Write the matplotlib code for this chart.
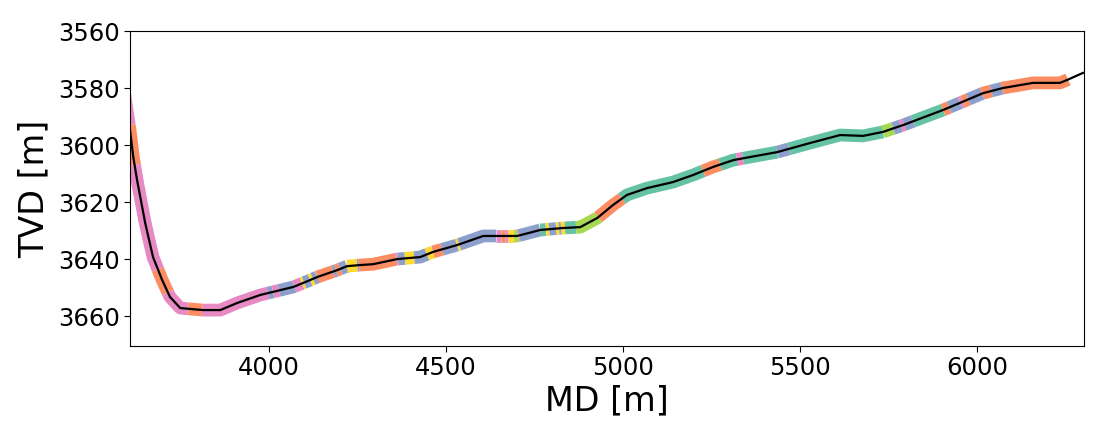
import numpy as np
from matplotlib import pyplot as plt

# well path
md = [3585, 3590, 3607, 3616, 3627, 3650, 3672, 3698, 3720, 3749, 3814, 3862, 3910, 3975,
      4068, 4102, 4136, 4192, 4220, 4257, 4294, 4362, 4427, 4463, 4531, 4605, 4653, 4701,
      4766, 4831, 4879, 4927, 4972, 5011, 5068, 5141, 5198, 5254, 5311, 5359, 5435, 5528,
      5613, 5678, 5734, 5791, 5904, 6017, 6073, 6158, 6234, 6254, 6299]
tvd = [3575, 3580.7, 3594.7, 3604, 3612.3, 3627.4, 3639.3, 3647.4, 3653.3, 3657.2, 3657.9, 3657.9, 3655.4, 3652.6,
       3649.8, 3648.1, 3646.3, 3643.9, 3642.5, 3642.1, 3641.8, 3640, 3639.3, 3637.5, 3635.1, 3631.9, 3631.9, 3631.9,
       3629.8, 3629.1, 3628.8, 3625.6, 3621, 3617.5, 3615.1, 3613, 3610.5, 3607.7, 3605.3, 3604.2, 3602.5, 3599.3,
       3596.5, 3596.8, 3595.4, 3593, 3587.7, 3581.8, 3580, 3578.2, 3578.2, 3577.2, 3574.7]

# facies intervals: where each one ends and its class
facies_end = [3605, 3620, 3686, 3714, 3771, 3811, 3997, 4011, 4028, 4071, 4093, 4099, 4116, 4124, 4136,
              4181, 4189, 4201, 4220, 4249, 4254, 4359, 4364, 4384, 4410, 4446, 4463, 4489, 4531, 4537,
              4641, 4655, 4667, 4675, 4692, 4703, 4706, 4766, 4782, 4791, 4811, 4819, 4825, 4836, 4867,
              4930, 4997, 5226, 5274, 5322, 5339, 5435, 5469, 5734, 5763, 5785, 5794, 5819, 5904, 5921,
              5952, 5960, 5975, 6014, 6040, 6071, 6257]
facies = [3, 1, 3, 1, 3, 1, 3, 2, 3, 2, 3, 5, 2, 5, 2,
          1, 2, 1, 2, 5, 2, 1, 3, 2, 5, 2, 5, 1, 2, 5,
          2, 3, 1, 3, 5, 4, 3, 2, 0, 5, 2, 5, 2, 5, 0,
          4, 1, 0, 1, 0, 3, 0, 2, 0, 4, 2, 3, 2, 0, 1,
          2, 3, 1, 2, 1, 2, 1]
colors = ["#66c2a5", "#fc8d62", "#8da0cb", "#e78ac3", "#a6d854", "#ffd92f"]


def main():
    fig = plt.figure(figsize=(11, 4.4), dpi=100)
    ax = fig.add_axes([130 / 1100, 94 / 440, 954 / 1100, 315 / 440])

    start = md[0]
    for end, c in zip(facies_end, facies):
        inside = [m for m in md if start < m < end]
        xs = [start] + inside + [end]
        ys = np.interp(xs, md, tvd)
        ax.plot(xs, ys, color=colors[c], lw=9.2, solid_capstyle="butt", solid_joinstyle="round")
        start = end
    ax.plot(md, tvd, color="black", lw=1.6)

    ax.set_xlim(3607, 6302)
    ax.set_ylim(3670.5, 3560)
    ax.set_xticks([4000, 4500, 5000, 5500, 6000])
    ax.set_yticks([3560, 3580, 3600, 3620, 3640, 3660])
    ax.tick_params(labelsize=17.5, length=4)
    ax.set_xlabel("MD [m]", fontsize=24, labelpad=3)
    ax.set_ylabel("TVD [m]", fontsize=24, labelpad=5)
    plt.savefig("out.png", dpi=100)


if __name__ == '__main__':
    main()
